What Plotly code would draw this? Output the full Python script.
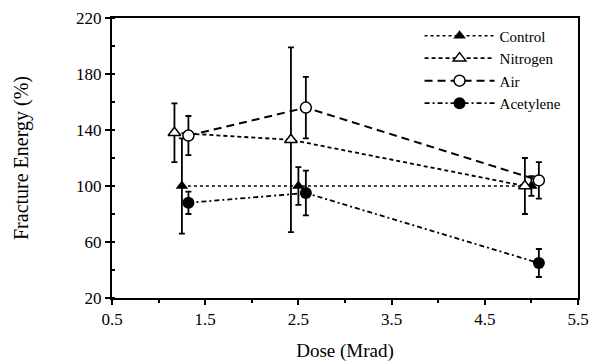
import plotly.graph_objects as go

# Data
control_x = [1.25, 2.5, 5.0]
control_y = [100, 100, 100]
control_err = [34, 13.5, 7]

nitrogen_x = [1.17, 2.42, 4.93]
nitrogen_y = [138, 133, 100]
nitrogen_err = [21, 66, 20]

air_x = [1.32, 2.58, 5.08]
air_y = [136, 156, 104]
air_err = [14, 22, 13]

acetylene_x = [1.32, 2.58, 5.08]
acetylene_y = [88, 95, 45]
acetylene_err = [8, 16, 10]

x_ticks = [0.5, 1.5, 2.5, 3.5, 4.5, 5.5]
y_ticks = [20, 60, 100, 140, 180, 220]

FONT = "Liberation Serif"

def err(vals):
    return dict(type="data", array=vals, visible=True, color="black", thickness=1.8, width=3)

fig = go.Figure()
fig.add_trace(go.Scatter(
    x=control_x, y=control_y, name="Control", mode="lines+markers",
    line=dict(color="black", width=1.5, dash="dot"),
    marker=dict(symbol="triangle-up", size=11, color="black"),
    error_y=err(control_err)))
fig.add_trace(go.Scatter(
    x=nitrogen_x, y=nitrogen_y, name="Nitrogen", mode="lines+markers",
    line=dict(color="black", width=1.8, dash="4px,3px"),
    marker=dict(symbol="triangle-up", size=11, color="white", line=dict(color="black", width=1.5)),
    error_y=err(nitrogen_err)))
fig.add_trace(go.Scatter(
    x=air_x, y=air_y, name="Air", mode="lines+markers",
    line=dict(color="black", width=2, dash="8px,5px"),
    marker=dict(symbol="circle", size=11, color="white", line=dict(color="black", width=1.5)),
    error_y=err(air_err)))
fig.add_trace(go.Scatter(
    x=acetylene_x, y=acetylene_y, name="Acetylene", mode="lines+markers",
    line=dict(color="black", width=1.8, dash="5px,3px,2px,3px"),
    marker=dict(symbol="circle", size=12, color="black"),
    error_y=err(acetylene_err)))

axis_common = dict(
    showline=True, linecolor="black", linewidth=2, mirror=True,
    ticks="outside", ticklen=5, tickwidth=2, tickcolor="black",
    showgrid=False, zeroline=False, automargin=False,
    tickfont=dict(family=FONT, size=17, color="black"),
)

fig.update_xaxes(
    range=[0.5, 5.5], tickvals=x_ticks, ticktext=[str(v) for v in x_ticks],
    title=dict(text="Dose (Mrad)", font=dict(family=FONT, size=19, color="black"), standoff=16),
    minor=dict(dtick=0.5, tick0=0.5, ticks="outside", ticklen=3, tickwidth=1.5, tickcolor="black"),
    **axis_common)
fig.update_yaxes(
    range=[20, 220], tickvals=y_ticks, ticktext=[str(v) for v in y_ticks],
    title=dict(text="Fracture Energy (%)", font=dict(family=FONT, size=20, color="black"), standoff=42),
    minor=dict(dtick=20, tick0=20, ticks="inside", ticklen=3, tickwidth=1.5, tickcolor="black"),
    **axis_common)

fig.update_layout(
    width=592, height=362,
    margin=dict(l=112, r=14, t=18, b=64),
    plot_bgcolor="white", paper_bgcolor="white",
    font=dict(family=FONT, color="black"),
    legend=dict(x=0.66, y=0.995, xanchor="left", yanchor="top",
                font=dict(family=FONT, size=15, color="black"),
                bgcolor="rgba(0,0,0,0)", borderwidth=0, tracegroupgap=0,
                itemwidth=70),
    showlegend=True,
)

# remove the default 8px page margin so the figure fills the window exactly
fig.write_html("out.html", config={"displayModeBar": False},
               post_script="document.body.style.margin='0px';document.body.style.overflow='hidden';")
